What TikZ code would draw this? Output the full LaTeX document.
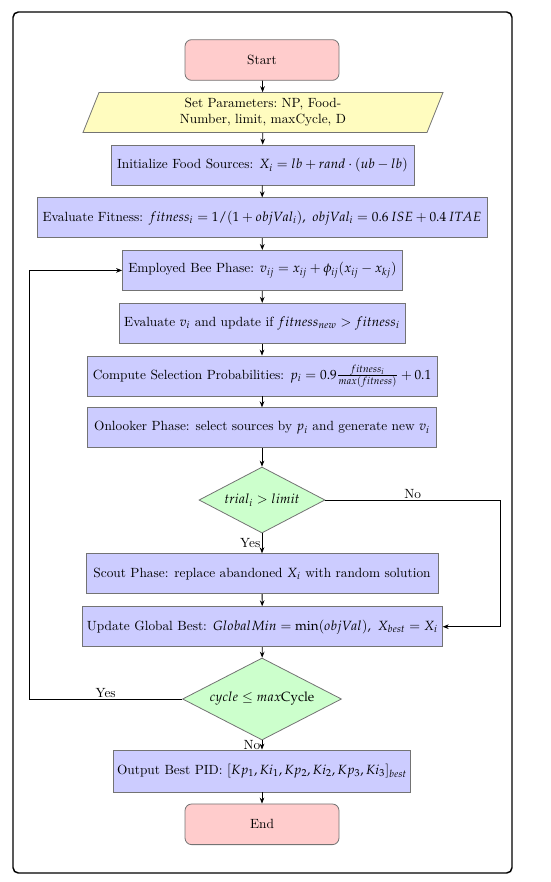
\documentclass[tikz,border=0pt]{standalone}
\usepackage{mathpazo}
\usetikzlibrary{shapes.geometric,arrows.meta,calc}
\begin{document}
\begin{tikzpicture}[x=0.75pt,y=-0.75pt, font=\fontsize{10}{12}\selectfont,
  boxline/.style={draw=black!55, line width=0.6pt},
  proc/.style={rectangle, boxline, fill=blue!20, minimum height=30pt, inner sep=2pt},
  term/.style={rectangle, rounded corners=5pt, boxline, fill=red!20, minimum width=115.5pt, minimum height=30.5pt},
  dec/.style={diamond, boxline, fill=green!20, inner sep=0pt, aspect=1.9},
  arr/.style={-{Stealth[length=4.5pt,width=3.5pt]}, line width=0.6pt},
  lab/.style={inner sep=1pt}]
\useasboundingbox (0,0) rectangle (550,882);
\draw[line width=1.1pt, rounded corners=4pt] (13,12) rectangle (512,873);

\node[term] (start) at (262,60) {Start};

\fill[yellow!25] (99,92.5) -- (443,92.5) -- (427,132.5) -- (83,132.5) -- cycle;
\draw[boxline] (99,92.5) -- (443,92.5) -- (427,132.5) -- (83,132.5) -- cycle;
\node[align=center, inner sep=0pt, minimum height=30pt] (params) at (263,112.5) {Set Parameters:\ NP, Food-\\Number, limit, maxCycle, D};

\node[proc, minimum width=227.25pt] (init) at (262.5,165) {Initialize Food Sources: $X_i = lb + rand \cdot (ub - lb)$};
\node[proc, minimum width=337.5pt] (fit) at (262,217.8) {Evaluate Fitness: $fitness_i = 1/(1+objVal_i),\ objVal_i = 0.6\,ISE + 0.4\,ITAE$};
\node[proc, minimum width=210pt] (emp) at (262.5,270.4) {Employed Bee Phase: $v_{ij} = x_{ij} + \phi_{ij}(x_{ij} - x_{kj})$};
\node[proc, minimum width=214.5pt] (evalv) at (262,323.3) {Evaluate $v_i$ and update if $fitness_{new} > fitness_i$};
\node[proc, minimum width=262.5pt] (comp) at (262,376) {Compute Selection Probabilities: $p_i = 0.9\frac{fitness_i}{max(fitness)} + 0.1$};
\node[proc, minimum width=262pt] (onl) at (262,427.7) {Onlooker Phase: select sources by $p_i$ and generate new $v_i$};
\node[dec, minimum width=94.5pt, minimum height=49.5pt] (trial) at (262,500) {$trial_i > limit$};
\node[proc, minimum width=264pt] (scout) at (262,573.7) {Scout Phase: replace abandoned $X_i$ with random solution};
\node[proc, minimum width=270pt] (upd) at (262.3,626.7) {Update Global Best: $GlobalMin = \min(objVal),\ X_{best} = X_i$};
\node[dec, minimum width=119.25pt, minimum height=61.5pt] (cyc) at (262,699) {$cycle \leq max\mathrm{Cycle}$};
\node[proc, minimum width=223pt, minimum height=31.5pt] (out) at (262,771) {Output Best PID: $[Kp_1, Ki_1, Kp_2, Ki_2, Kp_3, Ki_3]_{best}$};
\node[term] (end) at (262,824.3) {End};

\coordinate (noc) at (500,500);
\coordinate (loopc) at (29.3,699);

\draw[arr] (start) -- (params);
\draw[arr] (params) -- (init);
\draw[arr] (init) -- (fit);
\draw[arr] (fit) -- (emp);
\draw[arr] (emp) -- (evalv);
\draw[arr] (evalv) -- (comp);
\draw[arr] (comp) -- (onl);
\draw[arr] (onl) -- (trial);
\draw[arr] (trial) -- node[lab, left]{Yes} (scout);
\draw[arr] (scout) -- (upd);
\draw[arr] (upd) -- (cyc);
\draw[arr] (cyc) -- node[lab, left]{No} (out);
\draw[arr] (out) -- (end);
\draw[arr] (trial.east) -- node[lab, above]{No} (noc) |- (upd.east);
\draw[arr] (cyc.west) -- node[lab, above]{Yes} (loopc) |- (emp.west);
\end{tikzpicture}
\end{document}
